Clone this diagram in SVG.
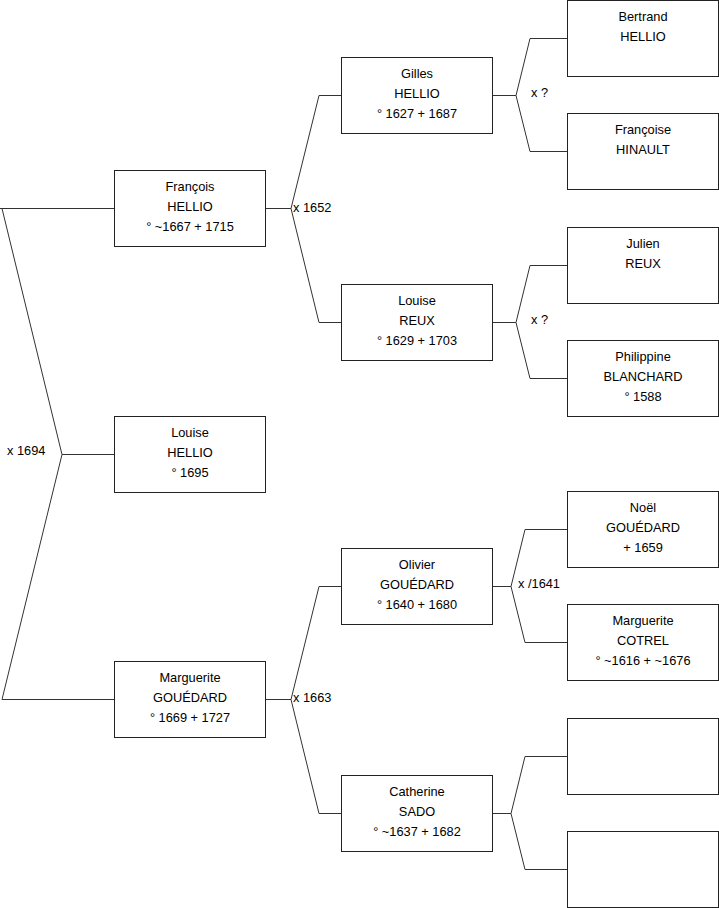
<svg xmlns="http://www.w3.org/2000/svg" width="719" height="908" viewBox="0 0 719 908">
<style>
.box{fill:#fff;stroke:#222;stroke-width:1}
.ln{fill:none;stroke:#333;stroke-width:1}
text{font-family:"Liberation Sans",Arial,sans-serif;font-size:12.8px;fill:#000}
.c{text-anchor:middle}
</style>
<rect width="719" height="908" fill="#fff"/>
<g id="connectors">
<path class="ln" d="M0,208.5 H114 M2,208.5 L62,454.5 L2,699.5 H114 M62,454.5 H114"/>
<path class="ln" d="M265,208.5 H291 M319,95.5 L291,208.5 L319,322.5 M319,95.5 H341 M319,322.5 H341"/>
<path class="ln" d="M265,699.5 H291 M319,586.5 L291,699.5 L319,813.5 M319,586.5 H341 M319,813.5 H341"/>
<path class="ln" d="M492,95.5 H516 M530,38.5 L516,95.5 L530,151.5 M530,38.5 H567 M530,151.5 H567"/>
<path class="ln" d="M492,322.5 H516 M530,265.5 L516,322.5 L530,378.5 M530,265.5 H567 M530,378.5 H567"/>
<path class="ln" d="M492,586.5 H511 M525,529.5 L511,586.5 L525,642.5 M525,529.5 H567 M525,642.5 H567"/>
<path class="ln" d="M492,813.5 H511 M525,756.5 L511,813.5 L525,869.5 M525,756.5 H567 M525,869.5 H567"/>
</g>
<g id="labels">
<text x="7" y="455">x 1694</text>
<text x="293" y="212">x 1652</text>
<text x="293" y="702">x 1663</text>
<text x="531" y="97">x ?</text>
<text x="531" y="324">x ?</text>
<text x="518" y="588">x /1641</text>
</g>
<g id="francois"><rect class="box" x="114.5" y="170.5" width="151" height="76"/><text class="c" x="190" y="190.5">François</text><text class="c" x="190" y="210.5">HELLIO</text><text class="c" x="190" y="230.5">° ~1667 + 1715</text></g>
<g id="louise-hellio"><rect class="box" x="114.5" y="416.5" width="151" height="76"/><text class="c" x="190" y="436.5">Louise</text><text class="c" x="190" y="456.5">HELLIO</text><text class="c" x="190" y="476.5">° 1695</text></g>
<g id="marguerite-gouedard"><rect class="box" x="114.5" y="661.5" width="151" height="76"/><text class="c" x="190" y="681.5">Marguerite</text><text class="c" x="190" y="701.5">GOUÉDARD</text><text class="c" x="190" y="721.5">° 1669 + 1727</text></g>
<g id="gilles"><rect class="box" x="341.5" y="57.5" width="151" height="76"/><text class="c" x="417" y="77.5">Gilles</text><text class="c" x="417" y="97.5">HELLIO</text><text class="c" x="417" y="117.5">° 1627 + 1687</text></g>
<g id="louise-reux"><rect class="box" x="341.5" y="284.5" width="151" height="76"/><text class="c" x="417" y="304.5">Louise</text><text class="c" x="417" y="324.5">REUX</text><text class="c" x="417" y="344.5">° 1629 + 1703</text></g>
<g id="olivier"><rect class="box" x="341.5" y="548.5" width="151" height="76"/><text class="c" x="417" y="568.5">Olivier</text><text class="c" x="417" y="588.5">GOUÉDARD</text><text class="c" x="417" y="608.5">° 1640 + 1680</text></g>
<g id="catherine"><rect class="box" x="341.5" y="775.5" width="151" height="76"/><text class="c" x="417" y="795.5">Catherine</text><text class="c" x="417" y="815.5">SADO</text><text class="c" x="417" y="835.5">° ~1637 + 1682</text></g>
<g id="bertrand"><rect class="box" x="567.5" y="0.5" width="151" height="76"/><text class="c" x="643" y="20.5">Bertrand</text><text class="c" x="643" y="40.5">HELLIO</text></g>
<g id="francoise"><rect class="box" x="567.5" y="113.5" width="151" height="76"/><text class="c" x="643" y="133.5">Françoise</text><text class="c" x="643" y="153.5">HINAULT</text></g>
<g id="julien"><rect class="box" x="567.5" y="227.5" width="151" height="76"/><text class="c" x="643" y="247.5">Julien</text><text class="c" x="643" y="267.5">REUX</text></g>
<g id="philippine"><rect class="box" x="567.5" y="340.5" width="151" height="76"/><text class="c" x="643" y="360.5">Philippine</text><text class="c" x="643" y="380.5">BLANCHARD</text><text class="c" x="643" y="400.5">° 1588</text></g>
<g id="noel"><rect class="box" x="567.5" y="491.5" width="151" height="76"/><text class="c" x="643" y="511.5">Noël</text><text class="c" x="643" y="531.5">GOUÉDARD</text><text class="c" x="643" y="551.5">+ 1659</text></g>
<g id="marguerite-cotrel"><rect class="box" x="567.5" y="604.5" width="151" height="76"/><text class="c" x="643" y="624.5">Marguerite</text><text class="c" x="643" y="644.5">COTREL</text><text class="c" x="643" y="664.5">° ~1616 + ~1676</text></g>
<g id="empty1"><rect class="box" x="567.5" y="718.5" width="151" height="76"/></g>
<g id="empty2"><rect class="box" x="567.5" y="831.5" width="151" height="76"/></g>
</svg>
